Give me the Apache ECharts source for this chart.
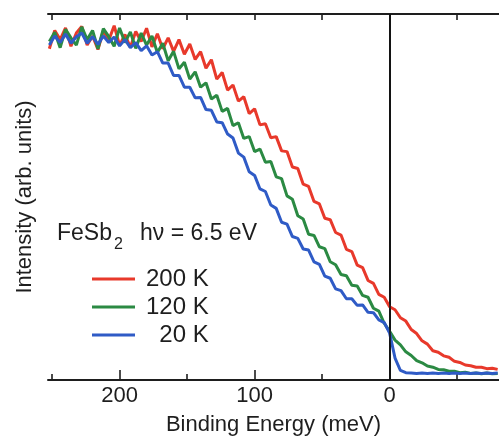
<!DOCTYPE html>
<html>
<head>
<meta charset="utf-8">
<script src="https://cdn.jsdelivr.net/npm/echarts@6/dist/echarts.min.js"></script>
<style>
  html, body { margin: 0; padding: 0; background: #fff; }
  #chart { width: 499px; height: 441px; }
</style>
</head>
<body>
<div id="chart"></div>
<script>
// Binding energy grid (meV), high binding energy on the left
const energies = [
  252, 248, 244, 240, 236, 232, 228, 224, 220, 216, 212, 208, 204, 200,
  196, 192, 188, 184, 180, 176, 172, 168, 164, 160, 156, 152, 148, 144,
  140, 136, 132, 128, 124, 120, 116, 112, 108, 104, 100, 96, 92, 88,
  84, 80, 76, 72, 68, 64, 60, 56, 52, 48, 44, 40, 36, 32,
  28, 24, 20, 16, 12, 8, 4, 0, -4, -8, -12, -16, -20, -24,
  -28, -32, -36, -40, -44, -48, -52, -56, -60, -64, -68, -72, -76, -80
];

// Photoemission intensity (arb. units) at each energy
const intensity200K = [
  0.905, 0.955, 0.930, 0.962, 0.912, 0.948, 0.966, 0.915, 0.940, 0.903, 0.955, 0.928, 0.968, 0.914,
  0.944, 0.909, 0.952, 0.925, 0.961, 0.910, 0.946, 0.905, 0.935, 0.898, 0.930, 0.890, 0.918, 0.876,
  0.897, 0.852, 0.875, 0.822, 0.840, 0.792, 0.806, 0.762, 0.774, 0.728, 0.741, 0.697, 0.700, 0.662,
  0.665, 0.626, 0.624, 0.582, 0.578, 0.535, 0.529, 0.488, 0.481, 0.442, 0.438, 0.403, 0.396, 0.357,
  0.351, 0.314, 0.307, 0.272, 0.264, 0.234, 0.226, 0.200, 0.192, 0.170, 0.161, 0.138, 0.127, 0.107,
  0.098, 0.080, 0.076, 0.066, 0.062, 0.051, 0.048, 0.041, 0.039, 0.035, 0.035, 0.031, 0.032, 0.029
];
const intensity120K = [
  0.925, 0.950, 0.908, 0.958, 0.935, 0.915, 0.965, 0.930, 0.955, 0.905, 0.960, 0.938, 0.912, 0.962,
  0.922, 0.951, 0.906, 0.948, 0.915, 0.940, 0.895, 0.920, 0.872, 0.898, 0.850, 0.868, 0.822, 0.842,
  0.800, 0.812, 0.768, 0.778, 0.734, 0.742, 0.695, 0.703, 0.660, 0.665, 0.624, 0.631, 0.595, 0.597,
  0.555, 0.550, 0.503, 0.494, 0.449, 0.440, 0.398, 0.395, 0.364, 0.359, 0.323, 0.315, 0.288, 0.285,
  0.259, 0.257, 0.231, 0.226, 0.196, 0.188, 0.155, 0.133, 0.109, 0.096, 0.077, 0.067, 0.053, 0.047,
  0.038, 0.035, 0.029, 0.028, 0.024, 0.024, 0.020, 0.021, 0.018, 0.019, 0.017, 0.019, 0.017, 0.018
];
const intensity20K = [
  0.915, 0.940, 0.922, 0.945, 0.920, 0.938, 0.948, 0.920, 0.938, 0.917, 0.940, 0.922, 0.937, 0.913,
  0.930, 0.908, 0.922, 0.900, 0.913, 0.888, 0.897, 0.866, 0.866, 0.832, 0.832, 0.800, 0.800, 0.771,
  0.772, 0.739, 0.737, 0.705, 0.703, 0.672, 0.661, 0.620, 0.609, 0.569, 0.559, 0.522, 0.515, 0.478,
  0.469, 0.431, 0.426, 0.392, 0.387, 0.358, 0.355, 0.323, 0.316, 0.284, 0.278, 0.249, 0.244, 0.222,
  0.222, 0.204, 0.205, 0.185, 0.184, 0.164, 0.157, 0.128, 0.060, 0.026, 0.020, 0.019, 0.018, 0.019,
  0.018, 0.019, 0.018, 0.019, 0.018, 0.019, 0.018, 0.019, 0.018, 0.019, 0.018, 0.019, 0.018, 0.019
];

const seriesNames = ['200 K', '120 K', '20 K'];
const seriesColors = ['#e8392b', '#2b8a43', '#2f5bc6'];
const majorTicks = [200, 100, 0];
const minorTicks = [250, 150, 50, -50];
const topTicks = [250, 200, 150, 100, 50, 0, -50];

const FONT = '"Liberation Sans", Arial, Helvetica, sans-serif';
const INK = '#1e1e1e';

function pairs(values) {
  return energies.map((e, i) => [e, values[i]]);
}

const chart = echarts.init(document.getElementById('chart'), null, { renderer: 'canvas' });

const lineSeries = [intensity200K, intensity120K, intensity20K].map((vals, i) => ({
  name: seriesNames[i],
  type: 'line',
  xAxisIndex: 0,
  yAxisIndex: 0,
  data: pairs(vals),
  showSymbol: false,
  symbol: 'none',
  lineStyle: { color: seriesColors[i], width: 3 },
  itemStyle: { color: seriesColors[i] },
  z: 2 + i
}));

// Fermi level marker at 0 meV
lineSeries[0].markLine = {
  silent: true,
  symbol: 'none',
  label: { show: false },
  lineStyle: { color: '#111', width: 1.6, type: 'solid' },
  data: [{ xAxis: 0 }],
  z: 10
};

const axisRange = { type: 'value', inverse: true, min: -81, max: 253 };

const option = {
  animation: false,
  backgroundColor: '#ffffff',
  grid: { left: 48, right: 0, top: 14, bottom: 60, containLabel: false },
  xAxis: [
    Object.assign({}, axisRange, {
      position: 'bottom',
      axisLine: { show: true, lineStyle: { color: INK, width: 2 } },
      axisTick: { show: true, inside: true, length: 10, customValues: majorTicks, lineStyle: { color: INK, width: 1.6 } },
      axisLabel: {
        margin: 5, customValues: majorTicks,
        fontFamily: FONT, fontSize: 22, color: INK
      },
      splitLine: { show: false },
      name: 'Binding Energy (meV)',
      nameLocation: 'middle',
      nameGap: 34,
      nameTextStyle: { fontFamily: FONT, fontSize: 22, color: INK }
    }),
    Object.assign({}, axisRange, {
      position: 'bottom',
      axisLine: { show: false },
      axisTick: { show: true, inside: true, length: 6, customValues: minorTicks, lineStyle: { color: INK, width: 1.6 } },
      axisLabel: { show: false },
      splitLine: { show: false }
    }),
    Object.assign({}, axisRange, {
      position: 'top',
      axisLine: { show: true, lineStyle: { color: INK, width: 2 } },
      axisTick: { show: true, inside: true, length: 6, customValues: topTicks, lineStyle: { color: INK, width: 1.6 } },
      axisLabel: { show: false },
      splitLine: { show: false }
    })
  ],
  yAxis: {
    type: 'value', min: 0, max: 1,
    axisLine: { show: true, lineStyle: { color: INK, width: 2 } },
    axisTick: { show: false },
    axisLabel: { show: false },
    splitLine: { show: false },
    name: 'Intensity (arb. units)',
    nameLocation: 'middle',
    nameGap: 12,
    nameTextStyle: { fontFamily: FONT, fontSize: 22, color: INK }
  },
  legend: {
    orient: 'vertical',
    left: 92, top: 267,
    padding: 0,
    itemWidth: 43, itemHeight: 3,
    itemGap: 4,
    icon: 'rect',
    data: seriesNames,
    formatter: name => (name === '20 K' ? '  20 K' : name),
    textStyle: { fontFamily: FONT, fontSize: 24, color: INK, lineHeight: 24, padding: [0, 0, 0, 6] }
  },
  graphic: [
    { type: 'text', x: 57, y: 234, silent: true, style: { text: 'FeSb', font: '23px ' + FONT, fill: INK, textVerticalAlign: 'middle' } },
    { type: 'text', x: 114, y: 245, silent: true, style: { text: '2', font: '16px ' + FONT, fill: INK, textVerticalAlign: 'middle' } },
    { type: 'text', x: 140, y: 234, silent: true, style: { text: 'hν = 6.5 eV', font: '23px ' + FONT, fill: INK, textVerticalAlign: 'middle' } }
  ],
  series: lineSeries
};

chart.setOption(option);
</script>
</body>
</html>
